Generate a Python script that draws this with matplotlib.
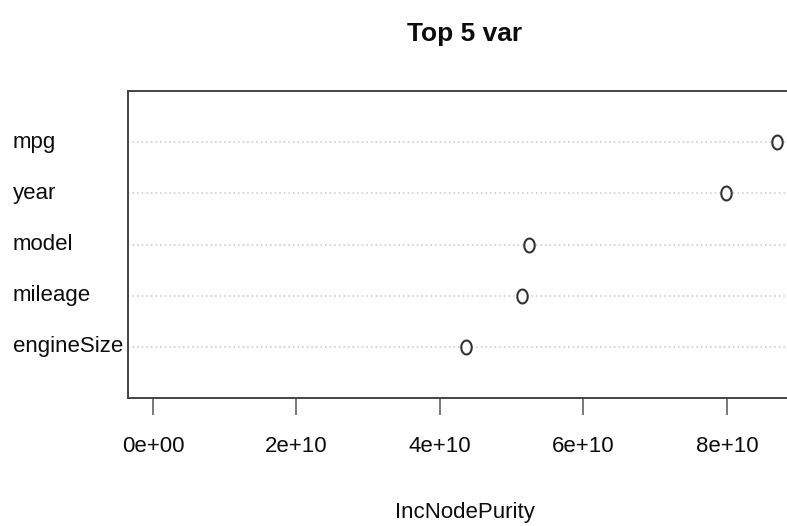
import matplotlib
matplotlib.use("Agg")
import matplotlib.pyplot as plt
import numpy as np
from matplotlib.path import Path
from matplotlib.ticker import FuncFormatter, MultipleLocator
from matplotlib.transforms import blended_transform_factory

# variable importance (IncNodePurity), sorted low -> high as dotchart draws it
variables = ["engineSize", "mileage", "model", "year", "mpg"]
inc_node_purity = [4.37e10, 5.14e10, 5.24e10, 7.99e10, 8.70e10]

plt.rcParams["font.family"] = ["Liberation Sans", "DejaVu Sans"]
txt = "#0d0d0d"
fs = 16

fig = plt.figure(figsize=(7.87, 5.26), dpi=100)
ax = fig.add_axes([128 / 787, 128 / 526, 674 / 787, 307 / 526])

n = len(variables)
ypos = np.arange(1, n + 1)

# open circle, a bit taller than wide
t = np.linspace(0, 2 * np.pi, 60)
ring = Path(np.column_stack([0.75 * np.cos(t), np.sin(t)]), closed=True)

for y in ypos:
    ax.axhline(y, color="#c8c8c8", lw=1.1, ls=(0, (1, 2.0)), zorder=1)
ax.plot(inc_node_purity, ypos, ls="none", marker=ring, ms=10,
        mfc="white", mec="#333333", mew=1.5, zorder=3)

# x range from 0 to the max, padded 4% each side
xmax = max(inc_node_purity)
ax.set_xlim(-0.04 * xmax, 1.04 * xmax)
ax.set_ylim(0, n + 1)

ax.xaxis.set_major_locator(MultipleLocator(2e10))
ax.xaxis.set_major_formatter(FuncFormatter(lambda v, p: f"{v:.0e}"))
ax.tick_params(axis="x", length=12, width=1.1, color="#555555", pad=15.5,
               labelsize=fs, labelcolor=txt)
ax.set_yticks([])

for s in ax.spines.values():
    s.set_color("#444444")
    s.set_linewidth(1.4)

trans = blended_transform_factory(fig.transFigure, ax.transData)
for y, name in zip(ypos, variables):
    ax.text(13 / 787, y, name, transform=trans, ha="left", va="center",
            fontsize=fs, color=txt)

ax.set_xlabel("IncNodePurity", fontsize=fs, color=txt, labelpad=32)
ax.set_title("Top 5 var", fontsize=19, fontweight="bold", color=txt, pad=36)

fig.savefig("out.png", dpi=100)
